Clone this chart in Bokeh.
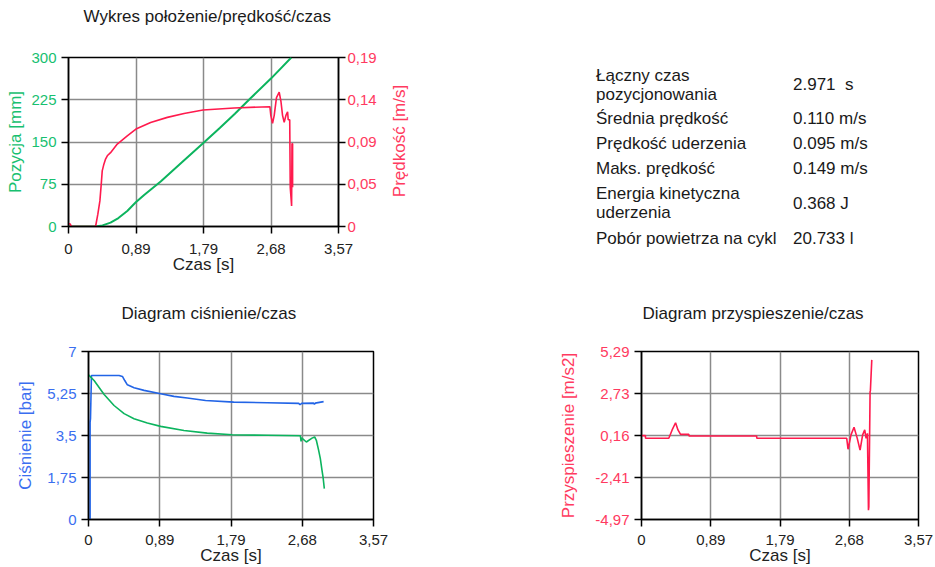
import math
from bokeh.plotting import figure
from bokeh.models import Range1d, LinearAxis, FixedTicker, Div, Title
from bokeh.layouts import row, column
from bokeh.embed import file_html
from bokeh.resources import INLINE

# ---------------- data ----------------
x_ticks = [0, 0.8925, 1.785, 2.6775, 3.57]
x_labels = ["0", "0,89", "1,79", "2,68", "3,57"]

pos_ticks = [0, 75, 150, 225, 300]
pos_labels = ["0", "75", "150", "225", "300"]
vel_ticks = [0, 0.0475, 0.095, 0.1425, 0.19]
vel_labels = ["0", "0,05", "0,09", "0,14", "0,19"]
pres_ticks = [0, 1.75, 3.5, 5.25, 7]
pres_labels = ["0", "1,75", "3,5", "5,25", "7"]
acc_ticks = [-4.97, -2.405, 0.16, 2.725, 5.29]
acc_labels = ["-4,97", "-2,41", "0,16", "2,73", "5,29"]

t_pos = [0, 0.36, 0.45, 0.556, 0.66, 0.777, 0.89, 1.0, 1.219, 1.5, 1.79, 2.0, 2.2, 2.41, 2.68, 2.946]
pos = [0, 0, 2, 6.8, 15, 27.6, 43, 56, 80, 114, 149, 175, 200, 228, 263, 300]

t_vel = [0, 0.02, 0.04, 0.358, 0.388, 0.415, 0.433, 0.446, 0.468, 0.49, 0.513, 0.556,
         0.645, 0.777, 0.892, 1.086, 1.307, 1.528, 1.779, 2.19, 2.663, 2.675, 2.698,
         2.72, 2.75, 2.786, 2.81, 2.83, 2.852, 2.875, 2.897, 2.905, 2.925, 2.932, 2.94,
         2.950, 2.955, 2.963, 2.963]
vel = [0.003, 0.003, 0, 0, 0.0138, 0.0288, 0.0476, 0.0626, 0.0701, 0.0758, 0.0795, 0.083,
       0.0927, 0.102, 0.1096, 0.117, 0.1227, 0.127, 0.131, 0.1333, 0.1347, 0.125, 0.116,
       0.125, 0.145, 0.151, 0.14, 0.125, 0.117, 0.125, 0.129, 0.12, 0.12, 0.044, 0.035,
       0.023, 0.093, 0.093, 0.044]

t_p1 = [0.02, 0.02, 0.025, 0.037, 0.383, 0.425, 0.454, 0.487, 0.571, 0.696, 0.904, 1.07,
        1.237, 1.466, 1.82, 2.237, 2.633, 2.65, 2.67, 2.82, 2.83, 2.84, 2.945]
p1 = [0, 4.06, 4.2, 6.0, 6.0, 5.96, 5.79, 5.61, 5.49, 5.38, 5.24, 5.13,
      5.06, 4.96, 4.89, 4.865, 4.84, 4.78, 4.84, 4.85, 4.80, 4.85, 4.91]

t_p2 = [0, 0.07, 0.196, 0.32, 0.446, 0.57, 0.737, 0.904, 1.196, 1.487, 1.8, 2.237, 2.654,
        2.663, 2.67, 2.729, 2.80, 2.833, 2.854, 2.883, 2.904, 2.925, 2.938, 2.954]
p2 = [6.03, 5.79, 5.21, 4.75, 4.41, 4.2, 4.02, 3.88, 3.71, 3.60, 3.53, 3.51, 3.49,
      3.25, 3.40, 3.23, 3.39, 3.44, 3.30, 2.88, 2.54, 2.05, 1.77, 1.29]

t_acc = [0, 0.05, 0.052, 0.352, 0.395, 0.439, 0.47, 0.503, 0.61, 0.612, 1.484, 1.486,
         2.645, 2.662, 2.70, 2.739, 2.78, 2.817, 2.85, 2.877, 2.895, 2.912, 2.925, 2.93,
         2.946, 2.95, 2.968]
acc = [0.15, 0.15, -0.01, -0.01, 0.5, 0.94, 0.5, 0.23, 0.23, 0.13, 0.13, -0.01,
       -0.01, -0.68, 0.2, 0.66, 0.0, -0.73, 0.2, 0.5, -0.01, 0.29, -4.4, -4.2,
       2.84, 2.9, 4.78]

table_labels = [["Łączny czas", "pozycjonowania"], ["Średnia prędkość"], ["Prędkość uderzenia"],
                ["Maks. prędkość"], ["Energia kinetyczna", "uderzenia"], ["Pobór powietrza na cykl"]]
table_values = ["2.971&nbsp; s", "0.110 m/s", "0.095 m/s", "0.149 m/s", "0.368 J", "20.733 l"]

# ---------------- style ----------------
FONT = "Liberation Sans"
GREEN = "#0cb45e"
GREEN_T = "#18c070"
RED = "#ff1a4d"
RED_T = "#ff3a60"
BLUE = "#2264e6"
BLUE_T = "#3a6ef0"
TICK_PX = "15px"
LABEL_PX = "17px"
TITLE_PX = "17px"


def make_fig(title, width, height, y_range, left, right, top, bottom, title_offset, gap):
    p = figure(width=width, height=height, x_range=Range1d(0, 3.57), y_range=y_range,
               min_border_left=left, min_border_right=right, min_border_top=top,
               min_border_bottom=bottom, output_backend="svg", toolbar_location=None,
               title=title)
    p.title.text_font = FONT
    p.title.text_font_size = TITLE_PX
    p.title.text_font_style = "normal"
    p.title.text_color = "#1a1a1a"
    p.title.align = "left"
    p.title.offset = title_offset
    p.title.standoff = 0
    # empty spacer between title and frame
    p.add_layout(Title(text=" ", text_font_size="1px", standoff=gap), "above")
    p.outline_line_color = "black"
    p.outline_line_width = 1.5
    p.background_fill_color = "white"
    p.border_fill_color = "white"
    for g in p.grid:
        g.grid_line_color = "#8a8a8a"
        g.grid_line_width = 1.5
    p.xgrid.ticker = FixedTicker(ticks=x_ticks)
    return p


def style_axis(ax, ticks, labels, color, label, label_color, label_standoff, major_standoff=5):
    ax.ticker = FixedTicker(ticks=ticks)
    ax.major_label_overrides = {k: v for k, v in zip(ticks, labels)}
    ax.major_label_text_font = FONT
    ax.major_label_text_font_size = TICK_PX
    ax.major_label_text_color = color
    ax.major_label_standoff = major_standoff
    if label is not None:
        ax.axis_label = label
        ax.axis_label_text_font = FONT
        ax.axis_label_text_font_size = LABEL_PX
        ax.axis_label_text_font_style = "normal"
        ax.axis_label_text_color = label_color
        ax.axis_label_standoff = label_standoff
    ax.major_tick_out = 7
    ax.major_tick_in = 0
    ax.minor_tick_out = 0
    ax.minor_tick_in = 0
    ax.axis_line_color = "black"
    ax.axis_line_width = 1.5
    ax.major_tick_line_color = "black"
    ax.major_tick_line_width = 1.5


# ---------- figure 1: position / velocity ----------
p1f = make_fig("Wykres położenie/prędkość/czas", 385, 290, Range1d(0, 300),
               68, 47, 57, 64, 15, 29)
p1f.extra_y_ranges = {"v": Range1d(0, 0.19)}
style_axis(p1f.xaxis[0], x_ticks, x_labels, "#222222", "Czas [s]", "#222222", -2, 10)
style_axis(p1f.yaxis[0], pos_ticks, pos_labels, GREEN_T, "Pozycja [mm]", GREEN_T, 3)
p1f.ygrid.ticker = FixedTicker(ticks=pos_ticks)
rax = LinearAxis(y_range_name="v")
style_axis(rax, vel_ticks, vel_labels, RED_T, None, RED_T, 0, 2)
p1f.add_layout(rax, "right")
p1f.line(t_pos, pos, line_color=GREEN, line_width=2)
p1f.line(t_vel, vel, line_color=RED, line_width=1.6, y_range_name="v")

# right-axis title (reads bottom to top, like the reference)
vel_title = Div(
    text=('<div style="position:relative;width:35px;height:290px;">'
          '<div style="position:absolute;left:14px;top:141px;white-space:nowrap;'
          'transform:translate(-50%,-50%) rotate(-90deg);'
          f'font-family:\'Liberation Sans\';font-size:17px;line-height:19px;color:{RED_T};">'
          'Prędkość [m/s]</div></div>'),
    width=35, height=290, margin=0)

# ---------- table ----------
label_tops = [[66, 85], [109], [134], [159], [184, 203], [229]]
value_tops = [75, 109, 134, 159, 194, 229]
spans = []
for lines, tops in zip(table_labels, label_tops):
    for txt, tp in zip(lines, tops):
        spans.append(f'<div style="position:absolute;left:176px;top:{tp}px;white-space:nowrap;">{txt}</div>')
for txt, tp in zip(table_values, value_tops):
    spans.append(f'<div style="position:absolute;left:373px;top:{tp}px;white-space:nowrap;">{txt}</div>')
html = ('<div style="position:relative;width:515px;height:290px;font-family:\'Liberation Sans\';'
        'font-size:17px;line-height:19px;color:#1a1a1a;">' + "".join(spans) + '</div>')
div = Div(text=html, width=515, height=290, margin=0)

# ---------- figure 2: pressure ----------
p2f = make_fig("Diagram ciśnienie/czas", 540, 277, Range1d(0, 7),
               88, 167, 61, 47, 33, 26)
style_axis(p2f.xaxis[0], x_ticks, x_labels, "#222222", "Czas [s]", "#222222", -2, 8)
style_axis(p2f.yaxis[0], pres_ticks, pres_labels, BLUE_T, "Ciśnienie [bar]", BLUE_T, 9)
p2f.ygrid.ticker = FixedTicker(ticks=pres_ticks)
p2f.line(t_p1, p1, line_color=BLUE, line_width=1.6)
p2f.line(t_p2, p2, line_color=GREEN, line_width=1.6)

# ---------- figure 3: acceleration ----------
p3f = make_fig("Diagram przyspieszenie/czas", 395, 277, Range1d(-4.97, 5.29),
               101, 17, 61, 47, 1, 26)
style_axis(p3f.xaxis[0], x_ticks, x_labels, "#222222", "Czas [s]", "#222222", -2, 8)
style_axis(p3f.yaxis[0], acc_ticks, acc_labels, RED_T, "Przyspieszenie [m/s2]", RED_T, 14)
p3f.ygrid.ticker = FixedTicker(ticks=acc_ticks)
p3f.line(t_acc, acc, line_color=RED, line_width=1.6)

layout = column(row(p1f, vel_title, div, spacing=0), row(p2f, p3f, spacing=0), spacing=0)

open("out.html", "w").write(file_html(layout, INLINE))
